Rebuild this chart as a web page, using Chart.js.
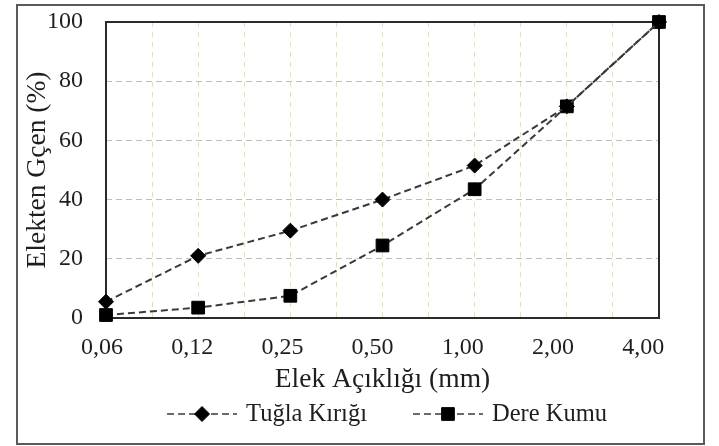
<!DOCTYPE html>
<html>
<head>
<meta charset="utf-8">
<script src="https://cdn.jsdelivr.net/npm/chart.js@4.4.1/dist/chart.umd.min.js"></script>
<style>
  html, body { margin: 0; padding: 0; background: #fff; }
  #wrap { position: relative; width: 719px; height: 446px; }
  #frame { position: absolute; left: 16px; top: 4px; width: 689px; height: 441px;
           border: 2px solid #5a5a5a; box-sizing: border-box; pointer-events: none; }
  canvas { display: block; }
</style>
</head>
<body>
<div id="wrap">
  <canvas id="c" width="719" height="446"></canvas>
  <div id="frame"></div>
</div>
<script>
// Sieve openings (mm) and cumulative passing (%)
const sieveSizes = ['0,06', '0,12', '0,25', '0,50', '1,00', '2,00', '4,00'];
const tuglaKirigi = [5.5, 21, 29.5, 40, 51.5, 71.5, 100];
const dereKumu = [1, 3.5, 7.5, 24.5, 43.5, 71.5, 100];
const yTickValues = [0, 20, 40, 60, 80, 100];

const SERIF = '"Liberation Serif", "Times New Roman", serif';

const toPoints = arr => arr.map((y, i) => ({ x: i, y }));

// Solid frame around the plotting area
const plotFrame = {
  id: 'plotFrame',
  beforeDatasetsDraw(chart) {
    const { ctx, chartArea: a } = chart;
    ctx.save();
    ctx.strokeStyle = '#2a2a2a';
    ctx.lineWidth = 2;
    ctx.strokeRect(a.left, a.top, a.right - a.left, a.bottom - a.top);
    ctx.restore();
  }
};

// Legend with a dashed line through each marker
const dashLegend = {
  id: 'dashLegend',
  afterDraw(chart, args, opts) {
    const { ctx, chartArea } = chart;
    ctx.save();
    ctx.font = opts.font;
    const lineLen = 70, textGap = 9, itemGap = 46;
    const items = chart.data.datasets.map(ds => ({ ds, w: lineLen + textGap + ctx.measureText(ds.label).width }));
    const total = items.reduce((s, it) => s + it.w, 0) + itemGap * (items.length - 1);
    let x = (chartArea.left + chartArea.right) / 2 + opts.shift - total / 2;
    const y = opts.y;
    items.forEach(({ ds, w }) => {
      ctx.strokeStyle = ds.borderColor;
      ctx.lineWidth = 1.6;
      ctx.setLineDash([7, 4]);
      ctx.beginPath();
      ctx.moveTo(x, y);
      ctx.lineTo(x + lineLen, y);
      ctx.stroke();
      ctx.setLineDash([]);
      ctx.fillStyle = ds.pointBackgroundColor;
      ctx.strokeStyle = ds.pointBorderColor;
      ctx.lineWidth = 1;
      Chart.helpers.drawPoint(ctx, { pointStyle: ds.pointStyle, radius: ds.pointRadius, borderWidth: 1, rotation: 0 }, x + lineLen / 2, y);
      ctx.fillStyle = '#1e1e1e';
      ctx.textAlign = 'left';
      ctx.textBaseline = 'middle';
      ctx.fillText(ds.label, x + lineLen + textGap, y + 1);
      x += w + itemGap;
    });
    ctx.restore();
  }
};

new Chart(document.getElementById('c'), {
  type: 'line',
  data: {
    datasets: [
      {
        label: 'Tuğla Kırığı',
        data: toPoints(tuglaKirigi),
        borderColor: '#3a3a3a',
        borderWidth: 2,
        borderDash: [7, 4],
        pointStyle: 'rectRot',
        pointRadius: 7.5,
        pointBackgroundColor: '#000',
        pointBorderColor: '#000',
        pointBorderWidth: 1,
        tension: 0,
        clip: false
      },
      {
        label: 'Dere Kumu',
        data: toPoints(dereKumu),
        borderColor: '#3a3a3a',
        borderWidth: 2,
        borderDash: [7, 4],
        pointStyle: 'rect',
        pointRadius: 9,
        pointBackgroundColor: '#000',
        pointBorderColor: '#000',
        pointBorderWidth: 1,
        tension: 0,
        clip: false
      }
    ]
  },
  options: {
    responsive: false,
    animation: false,
    events: [],
    layout: { padding: { left: 18, right: 60, top: 22, bottom: 48 } },
    plugins: {
      legend: { display: false },
      tooltip: { enabled: false },
      dashLegend: { font: '24.5px ' + SERIF, y: 414, shift: 4.5 }
    },
    scales: {
      x: {
        type: 'linear',
        min: 0,
        max: sieveSizes.length - 1,
        ticks: { display: false, stepSize: 0.5 },
        grid: { color: '#e4dfc4', lineWidth: 1, drawTicks: false },
        border: { display: false, dash: [5, 5] },
        afterFit: s => { s.height = 0; }
      },
      xLabels: {
        type: 'linear',
        position: 'bottom',
        min: 0.0443,
        max: 6.175,
        grid: { display: false, drawTicks: false },
        border: { display: false },
        afterBuildTicks: s => { s.ticks = sieveSizes.map((_, i) => ({ value: i })); },
        ticks: {
          autoSkip: false,
          maxRotation: 0,
          padding: 15.5,
          color: '#1e1e1e',
          font: { family: SERIF, size: 24 },
          callback: v => sieveSizes[v]
        },
        title: {
          display: true,
          text: 'Elek Açıklığı (mm)',
          color: '#1e1e1e',
          font: { family: SERIF, size: 27.5 },
          padding: { top: 0, bottom: 1.5 }
        },
        afterFit: s => { s.height = 80; }
      },
      y: {
        min: 0,
        max: 100,
        afterBuildTicks: s => { s.ticks = yTickValues.map(v => ({ value: v })); },
        ticks: {
          padding: 3,
          color: '#1e1e1e',
          font: { family: SERIF, size: 24 }
        },
        grid: {
          drawTicks: true,
          tickLength: 20,
          tickColor: 'rgba(0,0,0,0)',
          lineWidth: 1,
          color: c => (c.tick && (c.tick.value === 0 || c.tick.value === 100)) ? 'rgba(0,0,0,0)' : '#bdbdbd'
        },
        border: { display: false, dash: [6, 4] },
        title: {
          display: true,
          text: 'Elekten Gçen (%)',
          color: '#1e1e1e',
          font: { family: SERIF, size: 27.5 },
          padding: { top: 3.5, bottom: 0 }
        },
        afterFit: s => { s.width = 88; }
      }
    }
  },
  plugins: [plotFrame, dashLegend]
});
</script>
</body>
</html>
